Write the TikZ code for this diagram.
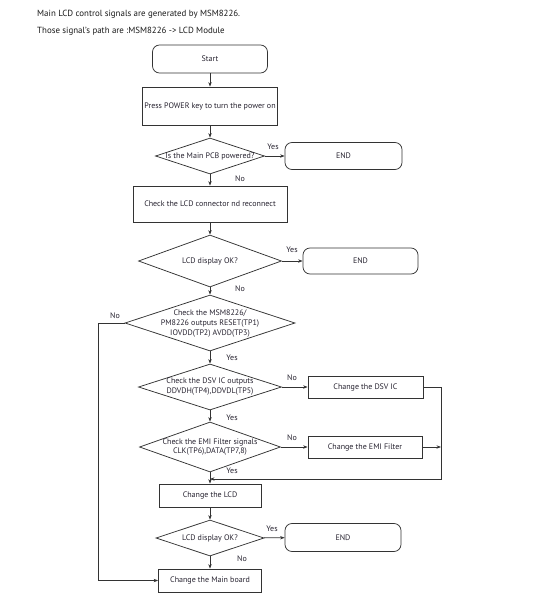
\documentclass[tikz,border=0pt]{standalone}
\usepackage{fontspec}
\setmainfont{PT Sans}
\usetikzlibrary{shapes.geometric,arrows.meta}
\definecolor{ln}{HTML}{333333}
\definecolor{tx}{HTML}{26222F}
\begin{document}
\begin{tikzpicture}[x=1pt,y=-1pt,
 every node/.style={font=\fontsize{8}{9.6}\selectfont, text=tx},
 proc/.style={draw=ln, line width=0.75pt, rectangle, inner sep=0},
 term/.style={draw=ln, line width=0.75pt, rounded corners=7pt, inner sep=0},
 dec/.style={draw=ln, line width=0.75pt, diamond, inner sep=0},
 lbl/.style={align=center, inner sep=0},
 lab/.style={inner sep=0},
 hdr/.style={inner sep=0, anchor=west, font=\fontsize{8.9}{10}\selectfont, text=black!90},
 arr/.style={draw=ln, line width=0.75pt, -{Stealth[length=4.5pt,width=3.4pt]}},
 ]
\useasboundingbox (0,0) rectangle (536,600);
\node[hdr] (h1) at (37,14.5) {Main LCD control signals are generated by MSM8226.};
\node[hdr] (h2) at (37,31.5) {Those signal's path are :MSM8226 -> LCD Module};

\node[term, minimum width=115pt, minimum height=28pt] (start) at (210,59) {Start};
\node[proc, minimum width=135pt, minimum height=38pt] (p1) at (210,106) {Press POWER key to turn the power on};
\node[dec, minimum width=109pt, minimum height=36pt] (d1) at (210,156) {};
\node[lbl] (d1t) at (210,156) {Is the Main PCB powered?};
\node[term, minimum width=117pt, minimum height=27pt] (e1) at (343.5,156) {END};
\node[proc, minimum width=154pt, minimum height=36pt] (p2) at (210,204) {Check the LCD connector nd reconnect};
\node[dec, minimum width=143pt, minimum height=52pt] (d2) at (210,261) {};
\node[lbl] (d2t) at (210,261) {LCD display OK?};
\node[term, minimum width=115pt, minimum height=26pt] (e2) at (360.5,261) {END};
\node[dec, minimum width=170pt, minimum height=56pt] (d3) at (210,323) {};
\node[lbl] (d3t) at (210,323.5) {Check the MSM8226/\\PM8226 outputs RESET(TP1)\\IOVDD(TP2) AVDD(TP3)};
\node[dec, minimum width=143pt, minimum height=46pt] (d4) at (210,387) {};
\node[lbl] (d4t) at (210,386.5) {Check the DSV IC outputs\\DDVDH(TP4),DDVDL(TP5)};
\node[proc, minimum width=115pt, minimum height=22pt] (dsv) at (365.5,387) {Change the DSV IC};
\node[dec, minimum width=141pt, minimum height=50pt] (d5) at (210,447) {};
\node[lbl] (d5t) at (210,447) {Check the EMI Filter signals\\CLK(TP6),DATA(TP7,8)};
\node[proc, minimum width=114pt, minimum height=22pt] (emi) at (365,447) {Change the EMI Filter};
\node[proc, minimum width=102pt, minimum height=23pt] (lcd) at (210,495.5) {Change the LCD};
\node[dec, minimum width=108pt, minimum height=36pt] (d6) at (210,538) {};
\node[lbl] (d6t) at (210,538) {LCD display OK?};
\node[term, minimum width=116pt, minimum height=28pt] (e3) at (343,537.5) {END};
\node[proc, minimum width=103pt, minimum height=23pt] (mb) at (210,580.5) {Change the Main board};

\coordinate (lp) at (98,323);
\coordinate (rp) at (441,479);

\draw[arr] (start) -- (p1);
\draw[arr] (p1) -- (d1);
\draw[arr] (d1) -- (e1);
\draw[arr] (d1) -- (p2);
\draw[arr] (p2) -- (d2);
\draw[arr] (d2) -- (e2);
\draw[arr] (d2) -- (d3);
\draw[arr] (d3) -- (d4);
\draw[arr] (d4) -- (dsv);
\draw[arr] (d4) -- (d5);
\draw[arr] (d5) -- (emi);
\draw[arr] (d5) -- (lcd);
\draw[arr] (lcd) -- (d6);
\draw[arr] (d6) -- (e3);
\draw[arr] (d6) -- (mb);
\draw[arr] (d3.west) -- (lp) |- (mb.west);
\draw[arr] (dsv.east) -| (rp) -- (rp -| d5.south);
\draw[arr] (emi.east) -- (emi.east -| rp);

\node[lab] (y1) at (273,147) {Yes};
\node[lab] (n1) at (240,178.5) {No};
\node[lab] (y2) at (292,250) {Yes};
\node[lab] (n2) at (240,288.5) {No};
\node[lab] (n3) at (115,316) {No};
\node[lab] (y3) at (232,357.5) {Yes};
\node[lab] (n4) at (292,378) {No};
\node[lab] (y4) at (232,418) {Yes};
\node[lab] (n5) at (292,438) {No};
\node[lab] (y5) at (232,471) {Yes};
\node[lab] (y6) at (272,529) {Yes};
\node[lab] (n6) at (242,558.5) {No};
\end{tikzpicture}
\end{document}
